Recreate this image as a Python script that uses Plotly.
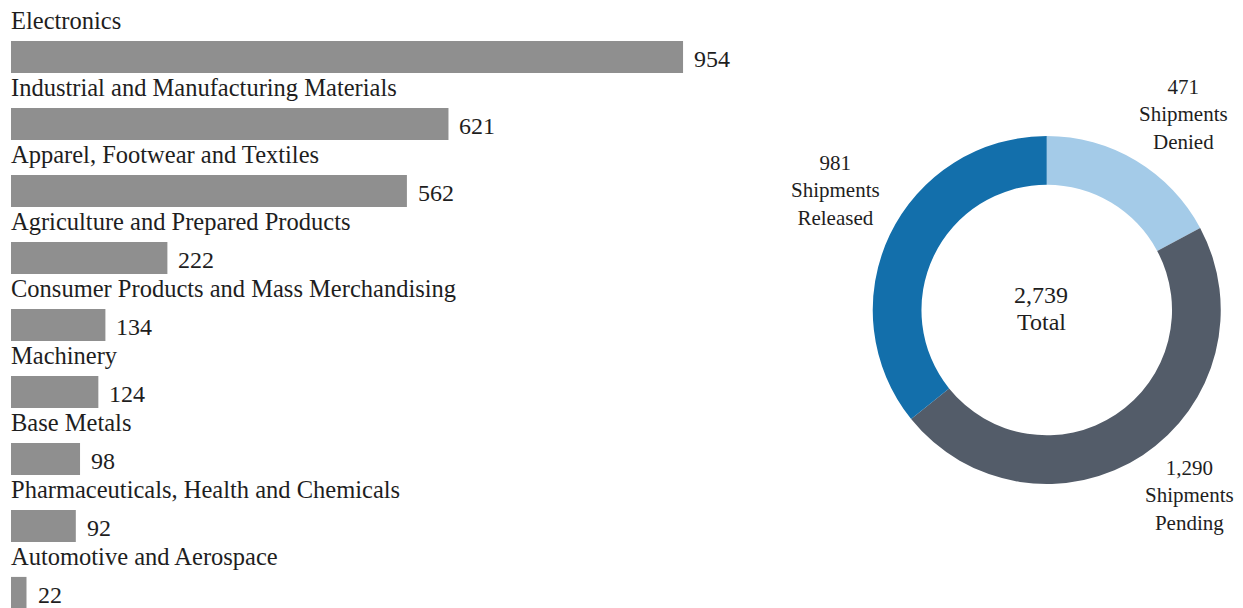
import plotly.graph_objects as go

categories = [
    "Electronics",
    "Industrial and Manufacturing Materials",
    "Apparel, Footwear and Textiles",
    "Agriculture and Prepared Products",
    "Consumer Products and Mass Merchandising",
    "Machinery",
    "Base Metals",
    "Pharmaceuticals, Health and Chemicals",
    "Automotive and Aerospace",
]
values = [954, 621, 562, 222, 134, 124, 98, 92, 22]

pie_labels = ["Shipments Denied", "Shipments Pending", "Shipments Released"]
pie_values = [471, 1290, 981]
pie_colors = ["#a4cbe8", "#535c69", "#136fab"]
total_label = "2,739"

FONT = "Liberation Serif"
TXT = "#1e1e1e"

idx = list(range(len(categories)))

fig = go.Figure()
fig.add_trace(go.Bar(
    x=values, y=idx, orientation="h",
    marker=dict(color="#8f8f8f", line=dict(width=0)),
    width=0.48,
    hoverinfo="skip",
    xaxis="x", yaxis="y",
))

for i, (c, v) in enumerate(zip(categories, values)):
    fig.add_annotation(x=0, y=i - 0.54, xref="x", yref="y", text=c,
                       showarrow=False, xanchor="left", yanchor="middle",
                       xshift=-2,
                       font=dict(family=FONT, size=24.5, color=TXT))
    fig.add_annotation(x=v, y=i + 0.03, xref="x", yref="y", text=f"{v:,}",
                       showarrow=False, xanchor="left", yanchor="middle",
                       xshift=9,
                       font=dict(family=FONT, size=24, color=TXT))

fig.add_trace(go.Pie(
    labels=pie_labels, values=pie_values, hole=0.72, sort=False,
    direction="clockwise", rotation=0,
    marker=dict(colors=pie_colors, line=dict(width=0)),
    textinfo="none", hoverinfo="skip", showlegend=False,
    domain=dict(x=[0.6991, 0.9823], y=[0.2039, 0.7763]),
))

# centre total (two lines)
for txt, py in [(total_label, 295), ("Total", 322)]:
    fig.add_annotation(x=(1041 - 11) / 1232, y=1 - py / 608, xref="paper", yref="paper",
                       text=txt, showarrow=False,
                       xanchor="center", yanchor="middle",
                       font=dict(family=FONT, size=24, color=TXT), align="center")

label_pos = {
    "Shipments Denied": (1183, 114),
    "Shipments Pending": (1189, 495),
    "Shipments Released": (836, 190),
}
for lab, val in zip(pie_labels, pie_values):
    px, py = label_pos[lab]
    word2 = lab.split(" ")[1]
    fig.add_annotation(x=(px - 11) / 1232, y=1 - py / 608, xref="paper", yref="paper",
                       text=f"{val:,}<br>Shipments<br>{word2}", showarrow=False,
                       xanchor="center", yanchor="middle",
                       font=dict(family=FONT, size=21, color=TXT), align="center")

fig.update_layout(
    width=1243, height=608,
    margin=dict(l=11, r=0, t=0, b=0),
    paper_bgcolor="white", plot_bgcolor="white",
    showlegend=False,
    xaxis=dict(domain=[0, 0.5718], range=[0, 1000], visible=False, fixedrange=True),
    yaxis=dict(range=[8.224, -0.851], visible=False, fixedrange=True),
    font=dict(family=FONT, color=TXT),
)

fig.write_html("out.html", config={"displayModeBar": False},
               post_script="document.body.style.margin='0px';document.body.style.overflow='hidden';")
